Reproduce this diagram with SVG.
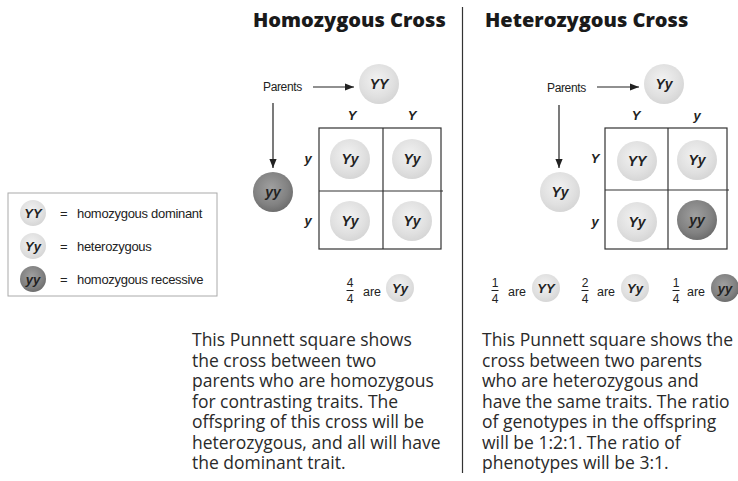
<svg xmlns="http://www.w3.org/2000/svg" width="738" height="481" viewBox="0 0 738 481">
<defs>
<radialGradient id="gLight" cx="45%" cy="40%" r="60%">
<stop offset="0%" stop-color="#f2f2f2"/>
<stop offset="70%" stop-color="#e0e0e0"/>
<stop offset="100%" stop-color="#d6d6d6"/>
</radialGradient>
<radialGradient id="gDark" cx="45%" cy="40%" r="60%">
<stop offset="0%" stop-color="#a0a0a0"/>
<stop offset="70%" stop-color="#828282"/>
<stop offset="100%" stop-color="#6e6e6e"/>
</radialGradient>
<marker id="ah" viewBox="0 0 10 10" refX="10" refY="5" markerWidth="9" markerHeight="9" markerUnits="userSpaceOnUse" orient="auto">
<path d="M0,1 L10,5 L0,9 Z" fill="#222"/>
</marker>
</defs>
<style>
.title{font-family:"Open Sans","Liberation Sans",sans-serif;font-weight:800;font-size:20px;fill:#1a1a1a}
.lab{font-family:"Liberation Sans",Arial,sans-serif;font-size:12px;letter-spacing:-0.35px;fill:#222}
.leg{font-family:"Liberation Sans",Arial,sans-serif;font-size:13px;letter-spacing:-0.3px;fill:#222}
.are{font-family:"Liberation Sans",Arial,sans-serif;font-size:12.5px;fill:#222}
.gen{font-family:"Liberation Sans",Arial,sans-serif;font-weight:bold;font-style:italic;font-size:14px;fill:#222;text-anchor:middle}
.gs{font-family:"Liberation Sans",Arial,sans-serif;font-weight:bold;font-style:italic;font-size:13px;fill:#222;text-anchor:middle}
.al{font-family:"Liberation Sans",Arial,sans-serif;font-weight:bold;font-style:italic;font-size:13px;fill:#222;text-anchor:middle}
.frac{font-family:"Liberation Sans",Arial,sans-serif;font-size:12px;fill:#222;text-anchor:middle}
.para{font-family:"Open Sans","Noto Sans",sans-serif;font-size:17.5px;fill:#2a2a2a}
.lt{fill:url(#gLight)}
.dk{fill:url(#gDark)}
.grid{fill:none;stroke:#333;stroke-width:1.2}
.conn{stroke:#222;stroke-width:1.2;fill:none}
</style>
<rect width="738" height="481" fill="#ffffff"/>

<!-- divider -->
<line x1="462.5" y1="7" x2="462.5" y2="473" stroke="#333" stroke-width="1.2"/>

<!-- titles -->
<text class="title" x="253" y="27">Homozygous Cross</text>
<text class="title" x="485" y="27">Heterozygous Cross</text>

<!-- connectors -->
<g id="connectors">
<line class="conn" x1="313" y1="87" x2="354" y2="87" marker-end="url(#ah)"/>
<line class="conn" x1="273" y1="103" x2="273" y2="168" marker-end="url(#ah)"/>
<line class="conn" x1="597" y1="87" x2="639" y2="87" marker-end="url(#ah)"/>
<line class="conn" x1="559" y1="105" x2="559" y2="168" marker-end="url(#ah)"/>
</g>

<!-- Homozygous cross -->
<g id="homo-parents-label"><text class="lab" x="263" y="91">Parents</text></g>
<g id="homo-parent-YY"><circle class="lt" cx="379" cy="84" r="20"/><text class="gen" x="379" y="89">YY</text></g>
<g id="homo-parent-yy"><circle class="dk" cx="273" cy="192" r="20"/><text class="gen" x="273" y="197">yy</text></g>
<g id="homo-col-labels"><text class="al" x="352" y="120">Y</text><text class="al" x="412" y="120">Y</text></g>
<g id="homo-row-labels"><text class="al" x="308" y="163">y</text><text class="al" x="308" y="225">y</text></g>
<g id="homo-grid">
<rect class="grid" x="319" y="128" width="122" height="121"/>
<line class="grid" x1="383" y1="128" x2="383" y2="249"/>
<line class="grid" x1="319" y1="191" x2="443" y2="191"/>
</g>
<g id="homo-cell-11"><circle class="lt" cx="350" cy="159" r="20"/><text class="gen" x="350" y="164">Yy</text></g>
<g id="homo-cell-12"><circle class="lt" cx="412" cy="159" r="20"/><text class="gen" x="412" y="164">Yy</text></g>
<g id="homo-cell-21"><circle class="lt" cx="350" cy="221" r="20"/><text class="gen" x="350" y="226">Yy</text></g>
<g id="homo-cell-22"><circle class="lt" cx="412" cy="221" r="20"/><text class="gen" x="412" y="226">Yy</text></g>
<g id="homo-ratio">
<text class="frac" x="350" y="287">4</text>
<line x1="346.5" y1="290.5" x2="353.5" y2="290.5" stroke="#222" stroke-width="1"/>
<text class="frac" x="350" y="303">4</text>
<text class="are" x="363" y="296">are</text>
<circle class="lt" cx="400" cy="288" r="14"/><text class="gs" x="400" y="293">Yy</text>
</g>

<!-- Heterozygous cross -->
<g id="het-parents-label"><text class="lab" x="547" y="92">Parents</text></g>
<g id="het-parent-Yy1"><circle class="lt" cx="664" cy="84" r="20"/><text class="gen" x="664" y="89">Yy</text></g>
<g id="het-parent-Yy2"><circle class="lt" cx="560" cy="192" r="20"/><text class="gen" x="560" y="197">Yy</text></g>
<g id="het-col-labels"><text class="al" x="636" y="120">Y</text><text class="al" x="697" y="120">y</text></g>
<g id="het-row-labels"><text class="al" x="595" y="163">Y</text><text class="al" x="595" y="226">y</text></g>
<g id="het-grid">
<rect class="grid" x="605" y="128" width="122" height="121"/>
<line class="grid" x1="668" y1="128" x2="668" y2="249"/>
<line class="grid" x1="605" y1="190" x2="729" y2="190"/>
</g>
<g id="het-cell-11"><circle class="lt" cx="637" cy="161" r="20"/><text class="gen" x="637" y="166">YY</text></g>
<g id="het-cell-12"><circle class="lt" cx="697" cy="160" r="20"/><text class="gen" x="697" y="165">Yy</text></g>
<g id="het-cell-21"><circle class="lt" cx="637" cy="222" r="20"/><text class="gen" x="637" y="227">Yy</text></g>
<g id="het-cell-22"><circle class="dk" cx="697" cy="220" r="20"/><text class="gen" x="697" y="225">yy</text></g>
<g id="het-ratio">
<text class="frac" x="495" y="287">1</text>
<line x1="491.5" y1="290.5" x2="498.5" y2="290.5" stroke="#222" stroke-width="1"/>
<text class="frac" x="495" y="303">4</text>
<text class="are" x="508" y="296">are</text>
<circle class="lt" cx="546" cy="288" r="14"/><text class="gs" x="546" y="293">YY</text>
<text class="frac" x="585" y="287">2</text>
<line x1="581.5" y1="290.5" x2="588.5" y2="290.5" stroke="#222" stroke-width="1"/>
<text class="frac" x="585" y="303">4</text>
<text class="are" x="597" y="296">are</text>
<circle class="lt" cx="635" cy="288" r="14"/><text class="gs" x="635" y="293">Yy</text>
<text class="frac" x="676" y="287">1</text>
<line x1="672.5" y1="290.5" x2="679.5" y2="290.5" stroke="#222" stroke-width="1"/>
<text class="frac" x="676" y="303">4</text>
<text class="are" x="687" y="296">are</text>
<circle class="dk" cx="725" cy="288" r="14"/><text class="gs" x="725" y="293">yy</text>
</g>

<!-- Legend -->
<g id="legend">
<rect x="8" y="193" width="209" height="103" fill="#fff" stroke="#aaa" stroke-width="1"/>
<circle class="lt" cx="33" cy="213" r="13"/><text class="gs" x="33" y="218">YY</text>
<text class="leg" x="60" y="218">=</text><text class="leg" x="77" y="218">homozygous dominant</text>
<circle class="lt" cx="33" cy="246" r="13"/><text class="gs" x="33" y="251">Yy</text>
<text class="leg" x="60" y="251">=</text><text class="leg" x="77" y="251">heterozygous</text>
<circle class="dk" cx="33" cy="279" r="13"/><text class="gs" x="33" y="284">yy</text>
<text class="leg" x="60" y="284">=</text><text class="leg" x="77" y="284">homozygous recessive</text>
</g>

<!-- Paragraphs -->
<g id="homo-text">
<text class="para" x="192" y="346">This Punnett square shows</text>
<text class="para" x="192" y="366.5">the cross between two</text>
<text class="para" x="192" y="387">parents who are homozygous</text>
<text class="para" x="192" y="407.5">for contrasting traits. The</text>
<text class="para" x="192" y="428">offspring of this cross will be</text>
<text class="para" x="192" y="448.5">heterozygous, and all will have</text>
<text class="para" x="192" y="469">the dominant trait.</text>
</g>
<g id="het-text">
<text class="para" x="482" y="346">This Punnett square shows the</text>
<text class="para" x="482" y="366.5">cross between two parents</text>
<text class="para" x="482" y="387">who are heterozygous and</text>
<text class="para" x="482" y="407.5">have the same traits. The ratio</text>
<text class="para" x="482" y="428">of genotypes in the offspring</text>
<text class="para" x="482" y="448.5">will be 1:2:1. The ratio of</text>
<text class="para" x="482" y="469">phenotypes will be 3:1.</text>
</g>
</svg>
